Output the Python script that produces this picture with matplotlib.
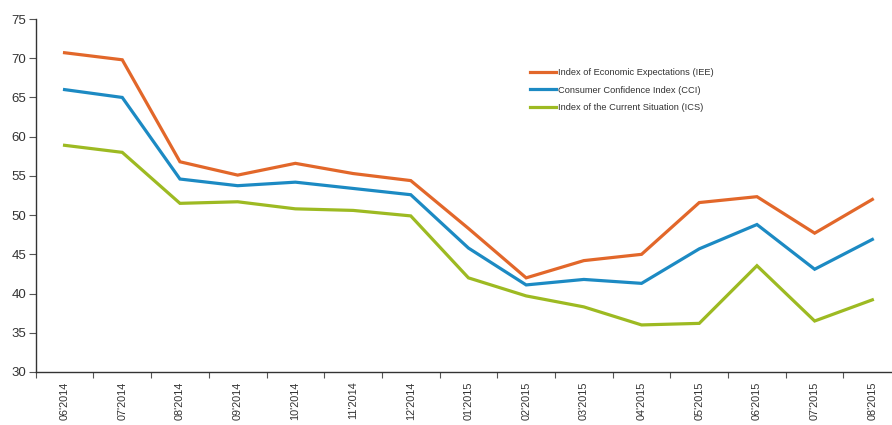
import matplotlib
matplotlib.use("Agg")
import matplotlib.pyplot as plt
import numpy as np

months = ["06'2014", "07'2014", "08'2014", "09'2014", "10'2014", "11'2014", "12'2014",
          "01'2015", "02'2015", "03'2015", "04'2015", "05'2015", "06'2015", "07'2015", "08'2015"]
iee = [70.7, 69.8, 56.8, 55.1, 56.6, 55.3, 54.4, 48.3, 42.0, 44.2, 45.0, 51.6, 52.35, 47.7, 52.0]
cci = [66.0, 65.0, 54.6, 53.75, 54.2, 53.4, 52.6, 45.8, 41.1, 41.8, 41.3, 45.7, 48.8, 43.1, 46.9]
ics = [58.9, 58.0, 51.5, 51.7, 50.8, 50.6, 49.9, 42.0, 39.7, 38.3, 36.0, 36.2, 43.55, 36.5, 39.2]
labels = ["Index of Economic Expectations (IEE)", "Consumer Confidence Index (CCI)",
          "Index of the Current Situation (ICS)"]
colors = ["#E2672A", "#1C8AC3", "#9DBA22"]
yticks = [30, 35, 40, 45, 50, 55, 60, 65, 70, 75]

W, H = 892, 425
fig = plt.figure(figsize=(W / 100, H / 100), dpi=100)
left, bottom = 35.7 / W, 1 - 372 / H
axw = 15 * 57.7
ax = fig.add_axes([left, bottom, axw / W, (372 - 19) / H])

x = np.arange(len(months))
for ser, lab, col in zip([iee, cci, ics], labels, colors):
    ax.plot(x, ser, color=col, lw=2.3, label=lab, solid_joinstyle="miter")

ax.set_xlim(-0.5, len(months) - 0.5)
ax.set_ylim(30, 75)
ax.set_yticks(yticks)
ax.set_yticklabels([str(v) for v in yticks], fontsize=9.5, color="#333333",
                   family="Liberation Sans")
ax.set_xticks(np.arange(len(months) + 1) - 0.5)
ax.set_xticklabels([])
ax.set_xticks(x, minor=True)
ax.set_xticklabels(months, minor=True, rotation=90, fontsize=7.8, color="#333333",
                   family="Liberation Sans")
ax.tick_params(axis="x", which="minor", length=0, pad=7)
ax.tick_params(axis="x", which="major", length=4, color="#555555", direction="out")
ax.tick_params(axis="y", length=5, color="#555555", direction="out", pad=2)

for s in ["top", "right"]:
    ax.spines[s].set_visible(False)
for s in ["left", "bottom"]:
    ax.spines[s].set_color("#333333")
    ax.spines[s].set_linewidth(1.0)

leg = ax.legend(loc="upper left", bbox_to_anchor=((522 - 35.7) / axw, (372 - 60) / 353),
                frameon=False, handlelength=2.8, handletextpad=0.2,
                labelspacing=0.9, prop={"family": "Liberation Sans", "size": 6.7})
for t in leg.get_texts():
    t.set_color("#333333")

fig.savefig("out.png", dpi=100)
